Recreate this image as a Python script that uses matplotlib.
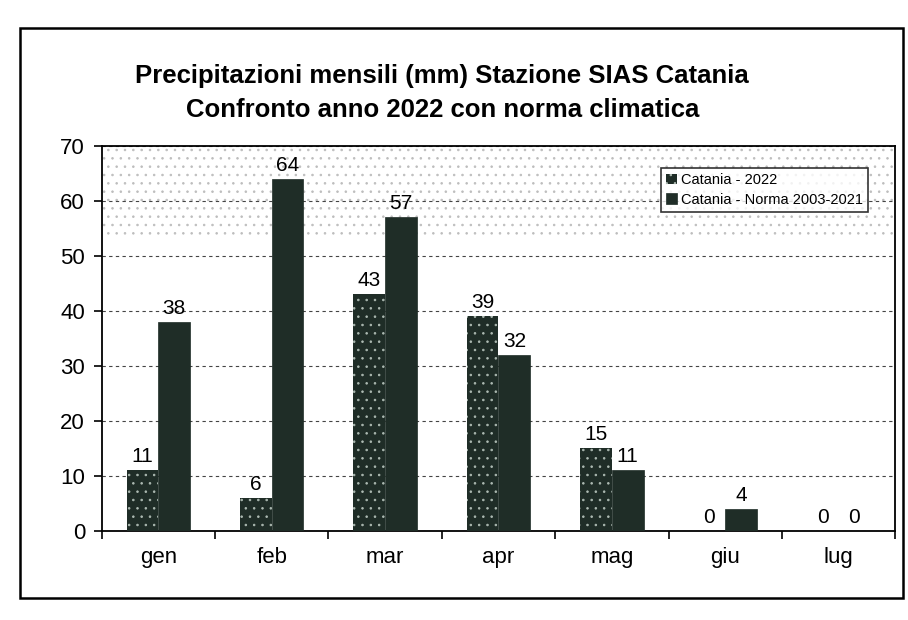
import matplotlib
matplotlib.use("Agg")
import matplotlib.pyplot as plt
import numpy as np
from matplotlib.patches import Rectangle

plt.rcParams['font.family'] = ['Liberation Sans', 'DejaVu Sans']
plt.rcParams['hatch.linewidth'] = 0.6

months = ["gen", "feb", "mar", "apr", "mag", "giu", "lug"]
rain_2022 = [11, 6, 43, 39, 15, 0, 0]
rain_norm = [38, 64, 57, 32, 11, 4, 0]
series_names = ["Catania - 2022", "Catania - Norma 2003-2021"]
title_lines = ["Precipitazioni mensili (mm) Stazione SIAS Catania",
               "Confronto anno 2022 con norma climatica"]
yticks = [0, 10, 20, 30, 40, 50, 60, 70]

dark = "#1f2d27"

fig = plt.figure(figsize=(9.08, 6.2), dpi=100)

# outer chart frame
fig.patches.append(Rectangle((0.022, 0.035), 0.972, 0.92, transform=fig.transFigure,
                             fill=False, edgecolor="black", linewidth=1.8))

ax = fig.add_axes([0.112, 0.144, 0.874, 0.621])
x = np.arange(len(months))
w = 0.28

# stippled background band at the top of the plot area
ax.axhspan(53, 70, facecolor="none", edgecolor="#bdbdbd", hatch="..", linewidth=0, zorder=0)

b1 = ax.bar(x - w / 2, rain_2022, w, color=dark, edgecolor="#aebbb3", hatch="..",
            linewidth=0, label=series_names[0], zorder=3)
b2 = ax.bar(x + w / 2, rain_norm, w, color=dark, edgecolor=dark, linewidth=0.5,
            label=series_names[1], zorder=3)

for bars, vals in ((b1, rain_2022), (b2, rain_norm)):
    ax.bar_label(bars, labels=[str(v) for v in vals], padding=3, fontsize=15, zorder=4)

ax.set_xlim(-0.5, len(months) - 0.5)
ax.set_ylim(0, 70)
ax.set_yticks(yticks)
ax.set_yticklabels([str(t) for t in yticks], fontsize=16)
ax.yaxis.grid(True, linestyle=(0, (3, 3)), color="#444444", linewidth=0.8)
ax.set_axisbelow(True)

ax.set_xticks(x)
ax.set_xticklabels(months, fontsize=16)
ax.tick_params(axis="x", length=0, pad=12)
ax.set_xticks(np.arange(len(months) + 1) - 0.5, minor=True)
ax.tick_params(axis="x", which="minor", length=6, width=1.2, direction="out")
ax.tick_params(axis="y", length=6, width=1.2, direction="out", pad=6)
for s in ax.spines.values():
    s.set_linewidth(1.3)

leg = ax.legend(loc="upper right", bbox_to_anchor=(0.975, 0.96), fontsize=10.5,
                frameon=True, fancybox=False, edgecolor="black", handlelength=0.7,
                handleheight=0.7, handletextpad=0.3, borderpad=0.35, labelspacing=0.35)
leg.get_frame().set_linewidth(1.2)

fig.text(0.487, 0.878, title_lines[0], ha="center", va="center", fontsize=18.5, fontweight="bold")
fig.text(0.487, 0.822, title_lines[1], ha="center", va="center", fontsize=18.5, fontweight="bold")

fig.savefig("out.png", dpi=100)
